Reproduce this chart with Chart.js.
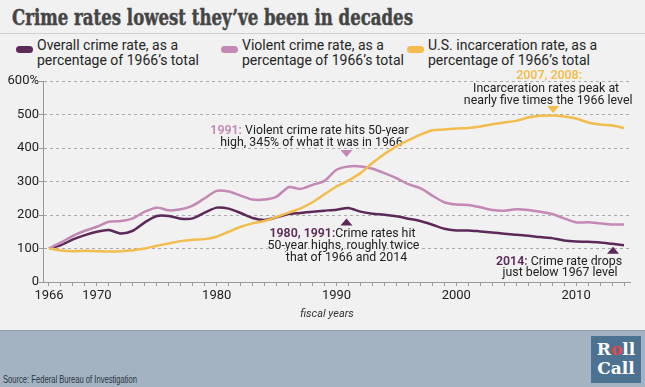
<!DOCTYPE html>
<html>
<head>
<meta charset="utf-8">
<script src="https://cdn.jsdelivr.net/npm/chart.js@4.4.1/dist/chart.umd.min.js"></script>
<style>
  html, body { margin: 0; padding: 0; }
  body {
    width: 645px; height: 387px; position: relative; overflow: hidden;
    background: #f0f1f0; font-family: Roboto, 'Liberation Sans', sans-serif;
  }
  #title {
    position: absolute; left: 12px; top: 5px; white-space: nowrap;
    font: bold 23px/23px 'DejaVu Serif', serif; color: #454545;
    -webkit-text-stroke: 0.5px #454545;
    transform-origin: 0 0;
  }
  #rule { position: absolute; left: 0; top: 33px; width: 645px; height: 1px; background: #cfd0cf; }
  .item {
    position: absolute; top: 38px; white-space: nowrap;
    font-size: 14px; line-height: 14.5px; color: #262626;
  }
  .sw { position: absolute; left: -21px; top: 8px; width: 17px; height: 7px; border-radius: 4px; }
  #wrap { position: absolute; left: 0; top: 60px; width: 645px; height: 270px; }
  #xtitle {
    position: absolute; left: 227px; width: 200px; top: 307px; text-align: center;
    font: italic 11px Roboto, sans-serif; color: #333;
  }
  #footer {
    position: absolute; left: 0; top: 330px; width: 645px; height: 57px;
    background: #a3b3c1; border-top: 1px solid #8e9ba7;
  }
  #source {
    position: absolute; left: 3px; bottom: 3px; white-space: nowrap;
    font: 10.5px 'Liberation Sans', sans-serif; color: #2b3640;
    transform-origin: 0 100%;
  }
  #logo {
    position: absolute; right: 4px; top: 5px; width: 50px; height: 47px;
    background: #4d7291; color: #fff; text-align: center;
    font: bold 17px/19px 'DejaVu Serif', serif; padding-top: 4px; box-sizing: border-box;
  }
  #logo span { color: #e04848; }
</style>
</head>
<body>
<div id="title">Crime rates lowest they’ve been in decades</div>
<div id="rule"></div>
<div id="legend"></div>
<div id="wrap"><canvas id="crimeChart"></canvas></div>
<div id="xtitle">fiscal years</div>
<div id="footer">
  <div id="source">Source: Federal Bureau of Investigation</div>
  <div id="logo">R<span>o</span>ll<br>Call</div>
</div>

<script>
// ─── DATA (percent of 1966 level) ────────────────────────
const YEARS = [1966, 1967, 1968, 1969, 1970, 1971, 1972, 1973, 1974, 1975,
               1976, 1977, 1978, 1979, 1980, 1981, 1982, 1983, 1984, 1985,
               1986, 1987, 1988, 1989, 1990, 1991, 1992, 1993, 1994, 1995,
               1996, 1997, 1998, 1999, 2000, 2001, 2002, 2003, 2004, 2005,
               2006, 2007, 2008, 2009, 2010, 2011, 2012, 2013, 2014];

const OVERALL = [100, 110, 127, 140, 150, 155, 145, 153, 178, 197,
                 197, 189, 190, 207, 222, 219, 206, 191, 185, 193,
                 203, 206, 210, 213, 216, 221, 210, 204, 201, 196,
                 189, 182, 171, 159, 154, 154, 151, 148, 144, 141,
                 138, 134, 131, 124, 121, 120, 118, 114, 110];

const VIOLENT = [100, 118, 138, 153, 165, 180, 182, 190, 210, 222,
                 214, 217, 228, 250, 272, 270, 258, 246, 246, 255,
                 283, 278, 290, 302, 335, 345, 345, 338, 325, 310,
                 292, 280, 258, 238, 231, 230, 223, 215, 213, 217,
                 215, 210, 203, 190, 178, 178, 175, 172, 172];

const INCARCERATION = [100, 94, 92, 93, 92, 91, 92, 95, 100, 108,
                       115, 122, 126, 128, 135, 150, 165, 175, 182, 194,
                       207, 220, 238, 262, 285, 303, 325, 355, 382, 405,
                       423, 440, 453, 455, 458, 460, 464, 471, 476, 481,
                       491, 496, 497, 494, 488, 476, 470, 467, 460];

const Y_TICKS = [0, 100, 200, 300, 400, 500, 600];
const X_LABELS = [1966, 1970, 1980, 1990, 2000, 2010];

const LEGEND_LINES = [
  ['Overall crime rate, as a', 'percentage of 1966’s total'],
  ['Violent crime rate, as a', 'percentage of 1966’s total'],
  ['U.S. incarceration rate, as a', 'percentage of 1966’s total'],
];

// ─── COLORS ───────────────────────────────────────────────
const C = {
  overall: '#5c2959',
  violent: '#c388b5',
  prison:  '#f2bd4c',
  text:    '#222222',
  axis:    '#9a9a9a',
  grid:    '#ababab',
  bg:      '#f0f1f0',
};

Chart.defaults.font.family = "Roboto, 'Liberation Sans', sans-serif";
Chart.defaults.color = C.text;

// ─── HEADER / FOOTER TEXT: squeeze faces to the reference widths ──
const fitWidth = (id, w) => {
  const el = document.getElementById(id);
  el.style.transform = 'scaleX(' + (w / el.getBoundingClientRect().width) + ')';
};
fitWidth('title', 401);
fitWidth('source', 134);

// ─── LEGEND ───────────────────────────────────────────────
const legendLeft = [37, 242, 428];
const legendColors = [C.overall, C.violent, C.prison];
document.getElementById('legend').innerHTML = LEGEND_LINES.map((lines, i) => `
  <div class="item" style="left:${legendLeft[i]}px">
    <span class="sw" style="background:${legendColors[i]}"></span>${lines.join('<br>')}
  </div>`).join('');

// ─── ANNOTATIONS ──────────────────────────────────────────
// each note hangs off one data point; offsets are in pixels from that point
const NOTES = [
  { year: 1991, series: VIOLENT, color: C.violent, tri: 'down', tdx: -2, tdy: -13,
    lines: [{ dx: -39, dy: -32, parts: [['1991: ', C.violent, true], ['Violent crime rate hits 50-year', C.text]] },
            { dx: -37, dy: -20, parts: [['high, 345% of what it was in 1966', C.text]] }] },
  { year: 1991, series: OVERALL, color: C.overall, tri: 'up', tdx: -2, tdy: 14,
    lines: [{ dx: -6, dy: 29, parts: [['1980, 1991:', C.overall, true], ['Crime rates hit', C.text]] },
            { dx: -5, dy: 41, parts: [['50-year highs, roughly twice', C.text]] },
            { dx: -2, dy: 53, parts: [['that of 1966 and 2014', C.text]] }] },
  { year: 2008, series: INCARCERATION, color: C.prison, tri: 'down', tdx: 1, tdy: -6,
    lines: [{ dx: -3, dy: -37, parts: [['2007, 2008:', C.prison, true]] },
            { dx: -6, dy: -24, parts: [['Incarceration rates peak at', C.text]] },
            { dx: -4, dy: -12, parts: [['nearly five times the 1966 level', C.text]] }] },
  { year: 2014, series: OVERALL, color: C.overall, tri: 'up', tdx: -11, tdy: 5,
    lines: [{ dx: -65, dy: 20, parts: [['2014: ', C.overall, true], ['Crime rate drops', C.text]] },
            { dx: -64, dy: 31, parts: [['just below 1967 level', C.text]] }] },
];

const SQUEEZE = 0.95;
const noteFont = bold => (bold ? '600 ' : '') + "13px Roboto, 'Liberation Sans', sans-serif";

function drawLine(ctx, parts, cx, y) {
  const widths = parts.map(p => { ctx.font = noteFont(p[2]); return ctx.measureText(p[0]).width; });
  const total = widths.reduce((a, b) => a + b, 0);
  ctx.save();
  ctx.translate(cx, y);
  ctx.scale(SQUEEZE, 1);
  ctx.textBaseline = 'alphabetic';
  ctx.lineJoin = 'round';
  for (const pass of ['halo', 'fill']) {
    let x = -total / 2;
    parts.forEach((p, i) => {
      ctx.font = noteFont(p[2]);
      if (pass === 'halo') {
        ctx.lineWidth = 3; ctx.strokeStyle = C.bg; ctx.strokeText(p[0], x, 0);
      } else {
        ctx.fillStyle = p[1]; ctx.fillText(p[0], x, 0);
      }
      x += widths[i];
    });
  }
  ctx.restore();
}

const notesPlugin = {
  id: 'notes',
  beforeDatasetsDraw(chart) {
    const { ctx, scales: { x, y } } = chart;
    NOTES.forEach(n => {
      const px = x.getPixelForValue(n.year);
      const py = y.getPixelForValue(n.series[YEARS.indexOf(n.year)]);
      const tx = px + n.tdx, ty = py + n.tdy;
      ctx.save();
      ctx.fillStyle = n.color;
      ctx.beginPath();
      if (n.tri === 'down') {
        ctx.moveTo(tx - 6, ty - 3.5); ctx.lineTo(tx + 6, ty - 3.5); ctx.lineTo(tx, ty + 3.5);
      } else {
        ctx.moveTo(tx - 6, ty + 3.5); ctx.lineTo(tx + 6, ty + 3.5); ctx.lineTo(tx, ty - 3.5);
      }
      ctx.closePath();
      ctx.fill();
      ctx.restore();
      n.lines.forEach(l => drawLine(ctx, l.parts, px + l.dx, py + l.dy));
    });
  },
};

// ─── CHART ────────────────────────────────────────────────
const series = (values, color) => ({
  data: YEARS.map((yr, i) => ({ x: yr, y: values[i] })),
  borderColor: color,
  borderWidth: 2.5,
  pointRadius: 0,
  tension: 0.25,
  fill: false,
});

new Chart(document.getElementById('crimeChart'), {
  type: 'line',
  data: {
    datasets: [
      { label: LEGEND_LINES[2].join(' '), ...series(INCARCERATION, C.prison) },
      { label: LEGEND_LINES[1].join(' '), ...series(VIOLENT, C.violent) },
      { label: LEGEND_LINES[0].join(' '), ...series(OVERALL, C.overall) },
    ],
  },
  options: {
    responsive: true,
    maintainAspectRatio: false,
    animation: false,
    layout: { padding: { top: 21, right: 15, left: 0, bottom: 0 } },
    plugins: { legend: { display: false }, tooltip: { enabled: false } },
    scales: {
      x: {
        type: 'linear',
        min: 1965.5, max: 2014.5,
        afterBuildTicks: s => { s.ticks = YEARS.map(v => ({ value: v })); },
        afterFit: s => { s.height = 48; },
        ticks: {
          autoSkip: false, maxRotation: 0, padding: 2,
          color: C.text, font: { size: 13 },
          callback: v => X_LABELS.includes(v) ? String(v) : '',
        },
        grid: { drawOnChartArea: false, tickLength: 4, tickColor: C.axis },
        border: { color: C.axis, width: 1 },
      },
      y: {
        min: 0, max: 600,
        afterBuildTicks: s => { s.ticks = Y_TICKS.map(v => ({ value: v })); },
        afterFit: s => { s.width = 43; },
        ticks: {
          padding: 0, color: C.text, font: { size: 13 },
          callback: v => v === 600 ? '600%' : String(v),
        },
        grid: { color: C.grid, tickLength: 4, tickColor: C.axis },
        border: { color: C.axis, width: 1, dash: [3, 3] },
      },
    },
  },
  plugins: [notesPlugin],
});
</script>
</body>
</html>
